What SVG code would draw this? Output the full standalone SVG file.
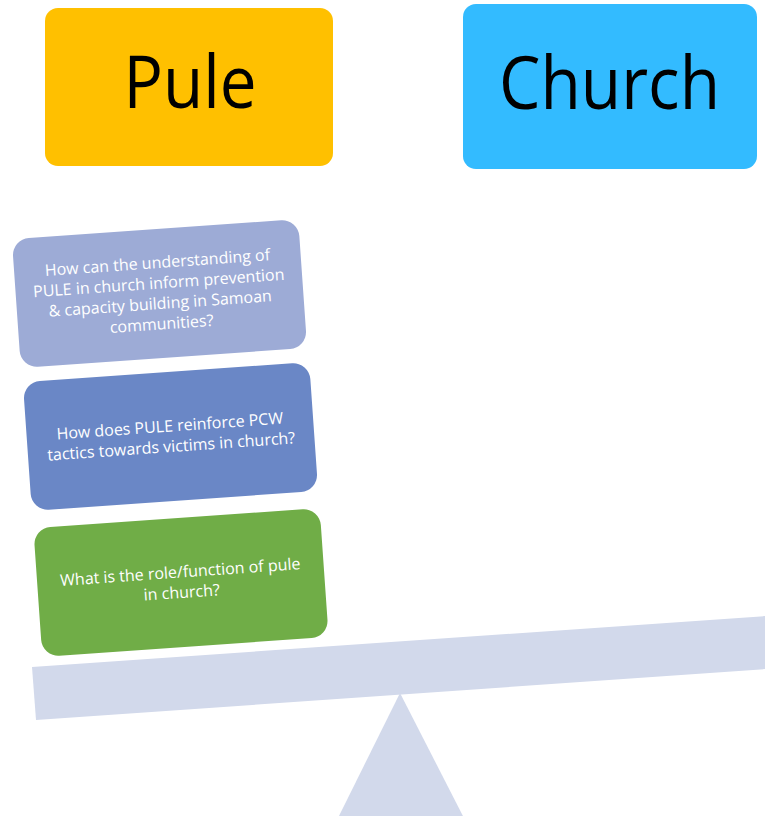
<svg xmlns="http://www.w3.org/2000/svg" width="765" height="816" viewBox="0 0 765 816">
  <style>
    .title { font-family: "Open Sans", "Noto Sans", "Liberation Sans", sans-serif; font-size: 73px; fill: #000000; text-anchor: middle; }
    .label { font-family: "Open Sans", "Noto Sans", "Liberation Sans", sans-serif; font-size: 16px; fill: #FFFFFF; text-anchor: middle; }
    .balance { fill: #D2D9EB; }
  </style>
  <rect width="765" height="816" fill="#FFFFFF"/>

  <!-- heading boxes -->
  <g id="pule">
    <rect x="45" y="8" width="288" height="158" rx="13" fill="#FFC000"/>
    <text class="title" x="190" y="108" textLength="133" lengthAdjust="spacingAndGlyphs">Pule</text>
  </g>
  <g id="church">
    <rect x="463" y="4" width="294" height="165" rx="13" fill="#33BBFF"/>
    <text class="title" x="609.5" y="109" textLength="221" lengthAdjust="spacingAndGlyphs">Church</text>
  </g>

  <!-- stacked question blocks resting on the beam -->
  <g id="question-prevention" transform="rotate(-4 159.5 293.5)">
    <rect x="16" y="229" width="287" height="129" rx="17" fill="#9DABD6"/>
    <text class="label" x="159.5" y="268">How can the understanding of</text>
    <text class="label" x="159.5" y="288.5">PULE in church inform prevention</text>
    <text class="label" x="159.5" y="309">&amp; capacity building in Samoan</text>
    <text class="label" x="159.5" y="329.5">communities?</text>
  </g>
  <g id="question-tactics" transform="rotate(-4 170.5 436.5)">
    <rect x="27" y="372" width="287" height="129" rx="17" fill="#6A87C6"/>
    <text class="label" x="170.5" y="431.5">How does PULE reinforce PCW</text>
    <text class="label" x="170.5" y="452">tactics towards victims in church?</text>
  </g>
  <g id="question-role" transform="rotate(-4 181 582.5)">
    <rect x="37.5" y="518" width="287" height="129" rx="17" fill="#70AD47"/>
    <text class="label" x="181" y="577.5">What is the role/function of pule</text>
    <text class="label" x="181" y="598">in church?</text>
  </g>

  <!-- seesaw: beam and fulcrum -->
  <g id="seesaw">
    <polygon id="beam" class="balance" points="32,667 766,616 766,669 36,720"/>
    <polygon id="fulcrum" class="balance" points="400,693 337,820 465,820"/>
  </g>
</svg>
